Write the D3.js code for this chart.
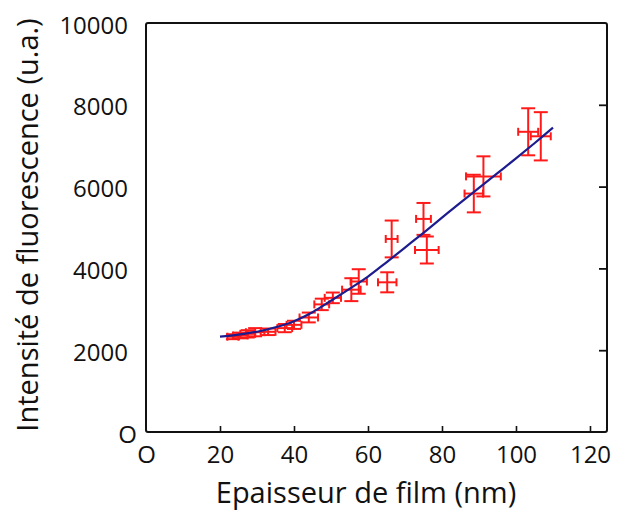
<!DOCTYPE html>
<html>
<head>
<meta charset="utf-8">
<script src="https://cdn.jsdelivr.net/npm/d3@7"></script>
<style>
  html, body { margin: 0; padding: 0; background: #fff; }
  svg { display: block; }
  text { font-family: "Open Sans", "Noto Sans", sans-serif; fill: #111; }
</style>
</head>
<body>
<svg id="chart" width="617" height="513"></svg>
<script>
// Film thickness (nm), fluorescence intensity (a.u.) and their uncertainties
const thickness  = [23.5, 25.5, 27.5, 29.5, 33, 37.5, 40, 44, 47.5, 50.5, 55.5, 57.5, 65.2, 66.4, 75, 75.9, 88.6, 91.2, 103.3, 106.7];
const intensity  = [2330, 2360, 2400, 2440, 2450, 2540, 2620, 2800, 3120, 3280, 3480, 3680, 3660, 4720, 5210, 4450, 5830, 6250, 7340, 7230];
const thicknessErr = [1.5, 2, 2, 2.5, 2, 2, 2, 2.5, 2, 2.2, 2.5, 2.2, 2.5, 1.6, 2, 3.2, 2.5, 4.7, 2.7, 2.7];
const intensityErr = [60, 70, 90, 100, 80, 100, 100, 120, 140, 130, 280, 300, 245, 450, 390, 330, 460, 490, 575, 590];

// Fitted trend curve
const fitThickness = [20, 25, 30, 35, 40, 45, 50, 55, 60, 65, 70, 75, 80, 85, 90, 95, 100, 105, 110];
const fitIntensity = [2330, 2380, 2450, 2560, 2710, 2930, 3210, 3500, 3800, 4150, 4510, 4870, 5240, 5610, 5970, 6330, 6690, 7060, 7440];

// Axis ticks
const xTicks = [0, 20, 40, 60, 80, 100, 120];
const yTicks = [0, 2000, 4000, 6000, 8000, 10000];

const xLabel = "Epaisseur de film (nm)";
const yLabel = "Intensité de fluorescence (u.a.)";

const svg = d3.select("#chart");
const plotLeft = 146, plotRight = 607, plotTop = 23, plotBottom = 432;

const x = d3.scaleLinear().domain([0, 124.6]).range([plotLeft, plotRight]);
const y = d3.scaleLinear().domain([0, 10000]).range([plotBottom, plotTop]);

const fmt = d => d === 0 ? "O" : String(d);

// Bottom axis: ticks pointing inward
const gx = svg.append("g")
  .attr("transform", `translate(0,${plotBottom})`)
  .call(d3.axisBottom(x).tickValues(xTicks).tickFormat(fmt)
        .tickSizeInner(-6).tickSizeOuter(0).tickPadding(14));
gx.select(".domain").remove();
gx.selectAll(".tick line").attr("stroke", "#111").attr("stroke-width", 1.6);
gx.selectAll(".tick").filter(d => d === 0).select("line").remove();
gx.selectAll(".tick text").attr("font-size", 24).attr("fill", "#111");

// Left axis: labels only
const gy = svg.append("g")
  .attr("transform", `translate(${plotLeft},0)`)
  .call(d3.axisLeft(y).tickValues(yTicks).tickFormat(fmt)
        .tickSize(0).tickPadding(18));
gy.select(".domain").remove();
gy.selectAll(".tick text").attr("font-size", 24).attr("fill", "#111")
  .attr("dy", "0.42em")
  .filter(d => d === 0).attr("dx", 9);

// Right axis: inward ticks, no labels
const gr = svg.append("g")
  .attr("transform", `translate(${plotRight},0)`)
  .call(d3.axisRight(y).tickValues(yTicks.filter(d => d > 0 && d < 10000))
        .tickFormat("").tickSizeInner(-8).tickSizeOuter(0));
gr.select(".domain").remove();
gr.selectAll(".tick line").attr("stroke", "#111").attr("stroke-width", 1.8);

// Frame
svg.append("rect")
  .attr("x", plotLeft).attr("y", plotTop)
  .attr("width", plotRight - plotLeft).attr("height", plotBottom - plotTop)
  .attr("rx", 2)
  .attr("fill", "none").attr("stroke", "#111").attr("stroke-width", 2);

// Error bars
const points = thickness.map((t, i) => ({
  t, v: intensity[i], et: thicknessErr[i], ev: intensityErr[i]
}));
const red = "#ff1a1a";
const capV = 7, capH = 4;
const eb = svg.append("g").attr("stroke", red).attr("stroke-width", 2).attr("fill", "none");
points.forEach(p => {
  const cx = x(p.t), cy = y(p.v);
  const y0 = y(p.v - p.ev), y1 = y(p.v + p.ev);
  const x0 = x(p.t - p.et), x1 = x(p.t + p.et);
  const g = eb.append("g");
  g.append("line").attr("x1", cx).attr("x2", cx).attr("y1", y0).attr("y2", y1);
  g.append("line").attr("x1", cx - capV).attr("x2", cx + capV).attr("y1", y0).attr("y2", y0);
  g.append("line").attr("x1", cx - capV).attr("x2", cx + capV).attr("y1", y1).attr("y2", y1);
  g.append("line").attr("x1", x0).attr("x2", x1).attr("y1", cy).attr("y2", cy);
  g.append("line").attr("x1", x0).attr("x2", x0).attr("y1", cy - capH).attr("y2", cy + capH);
  g.append("line").attr("x1", x1).attr("x2", x1).attr("y1", cy - capH).attr("y2", cy + capH);
});

// Fit curve
const fit = fitThickness.map((t, i) => [t, fitIntensity[i]]);
svg.append("path")
  .datum(fit)
  .attr("fill", "none")
  .attr("stroke", "#1c1c8f")
  .attr("stroke-width", 2.2)
  .attr("d", d3.line().x(d => x(d[0])).y(d => y(d[1])).curve(d3.curveCatmullRom));

// Axis titles
svg.append("text")
  .attr("x", 366).attr("y", 503)
  .attr("text-anchor", "middle")
  .attr("font-size", 29)
  .text(xLabel);

svg.append("text")
  .attr("transform", "translate(38,225) rotate(-90)")
  .attr("text-anchor", "middle")
  .attr("font-size", 29)
  .text(yLabel);
</script>
</body>
</html>
